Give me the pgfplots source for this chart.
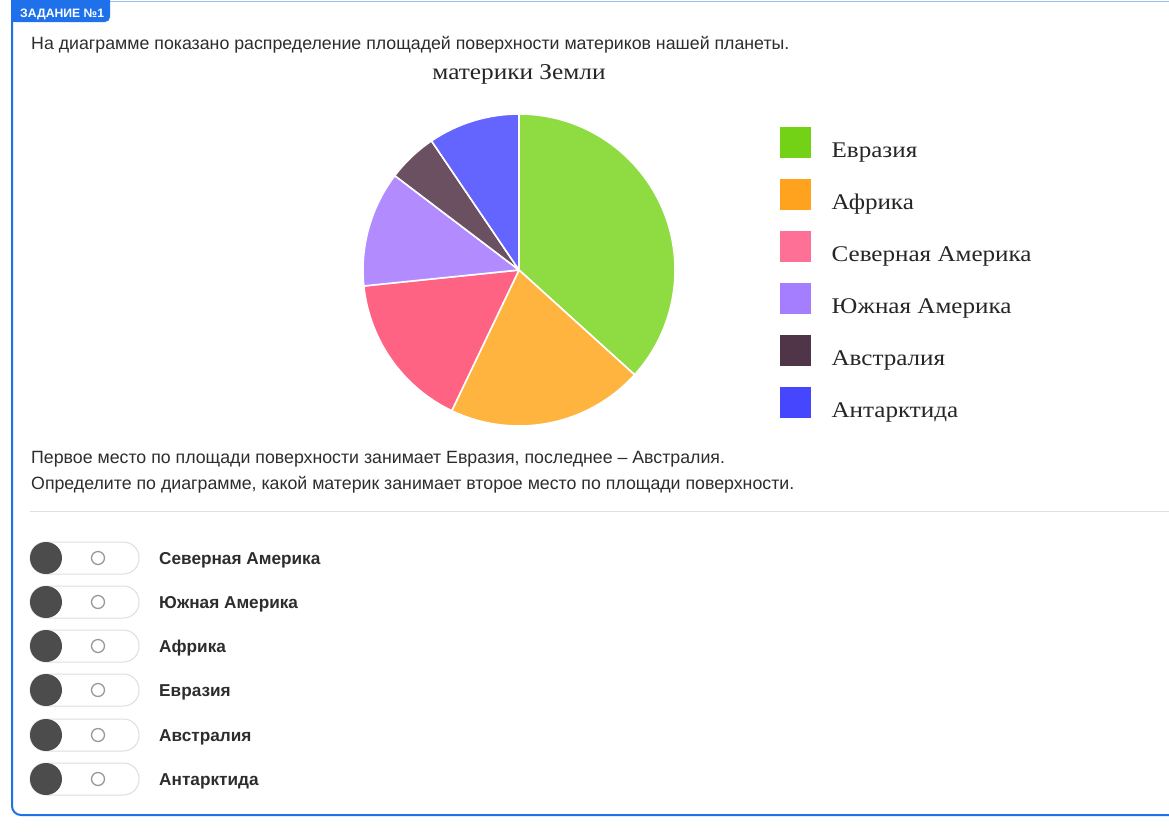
\documentclass[border=0pt]{standalone}
\usepackage{pgfplots}
\pgfplotsset{compat=1.18}
\usepackage{pgfplotstable}
\usepackage{fontspec}
\setmainfont{Liberation Sans}
\newfontfamily\serif[FakeStretch=1.12]{Liberation Serif}
\definecolor{pEur}{RGB}{142,220,66}
\definecolor{pAfr}{RGB}{255,180,64}
\definecolor{pNA}{RGB}{255,99,132}
\definecolor{pSA}{RGB}{178,140,255}
\definecolor{pAus}{RGB}{106,80,96}
\definecolor{pAnt}{RGB}{100,100,255}
\definecolor{lEur}{RGB}{115,210,22}
\definecolor{lAfr}{RGB}{255,163,30}
\definecolor{lNA}{RGB}{255,112,150}
\definecolor{lSA}{RGB}{165,125,255}
\definecolor{lAus}{RGB}{80,52,72}
\definecolor{lAnt}{RGB}{70,70,255}
\definecolor{uiblue}{RGB}{30,112,235}
\definecolor{uitext}{RGB}{45,45,45}
\pgfplotstableread{
name value pie
Eurasia 54.6 pEur
Africa 30.3 pAfr
NorthAmerica 24.2 pNA
SouthAmerica 17.8 pSA
Australia 7.7 pAus
Antarctica 14.1 pAnt
}\continents
% total of the values
\xdef\total{0}
\pgfplotstableforeachcolumnelement{value}\of\continents\as\val{%
  \pgfmathsetmacro\tmp{\total+\val}\xdef\total{\tmp}}
% start/end angles of each slice (clockwise from 12 o'clock)
\xdef\cum{0}
\xdef\slices{}
\pgfplotstableforeachcolumnelement{value}\of\continents\as\val{%
  \pgfplotstablegetelem{\pgfplotstablerow}{pie}\of\continents
  \edef\col{\pgfplotsretval}%
  \pgfmathsetmacro\aS{90-\cum/\total*360}%
  \pgfmathsetmacro\aE{90-(\cum+\val)/\total*360}%
  \pgfmathsetmacro\tmp{\cum+\val}\xdef\cum{\tmp}%
  \ifx\slices\empty
    \xdef\slices{\aS/\aE/\col}%
  \else
    \xdef\slices{\slices,\aS/\aE/\col}%
  \fi
}
\begin{document}
\begin{tikzpicture}[x=1pt,y=-1pt]
\path[use as bounding box] (0,0) rectangle (1169,833);
\fill[white] (0,0) rectangle (1169,833);
% frame
\draw[uiblue!45, line width=1pt] (12,1.5) -- (1169,1.5);
\draw[uiblue, line width=2pt, rounded corners=9pt] (12,0) -- (12,815) -- (1169,815);
\fill[uiblue, rounded corners=5pt] (11,-6) rectangle (110,22);
\fill[uiblue] (11,-6) rectangle (30,22);
\node[anchor=base west, inner sep=0pt, text=white, font=\bfseries\fontsize{12.2}{12.2}\selectfont] at (20,17) {ЗАДАНИЕ №1};
% texts
\begin{scope}[every node/.style={anchor=base west, inner sep=0pt, text=uitext, font=\fontsize{17.75}{17.75}\selectfont}]
\node at (31,49) {На диаграмме показано распределение площадей поверхности материков нашей планеты.};
\node at (31,463) {Первое место по площади поверхности занимает Евразия, последнее – Австралия.};
\node at (31,489) {Определите по диаграмме, какой материк занимает второе место по площади поверхности.};
\end{scope}
\draw[black!12, line width=1pt] (30,511) -- (1169,511);
% options
\foreach \yy/\lab in {558/Северная Америка, 602/Южная Америка, 646/Африка, 690/Евразия, 735/Австралия, 779/Антарктида}{
  \draw[black!13, line width=1pt, rounded corners=15.5pt] (30,\yy-16) rectangle (139,\yy+16);
  \fill[black!70] (46,\yy) circle[radius=16];
  \draw[black!40, line width=1.3pt] (98,\yy) circle[radius=6.5];
  \node[anchor=base west, inner sep=0pt, text=uitext, font=\bfseries\fontsize{17.2}{17.2}\selectfont] at (159,\yy+6) {\lab};
}
% pie chart
\begin{axis}[
  at={(519pt,-270pt)}, anchor=center,
  width=312pt, height=312pt, scale only axis,
  xmin=-1, xmax=1, ymin=-1, ymax=1,
  hide axis,
  title={материки Земли},
  title style={at={(0.5,1)}, anchor=base, yshift=29pt, inner sep=0pt, text=black!85, font=\serif\fontsize{22.6}{22.6}\selectfont},
  legend image code/.code={\fill[#1] (0pt,-5pt) rectangle (30pt,25pt);},
  legend cell align=left,
  legend style={draw=none, fill=none, at={(1.3365,0.958)}, anchor=north west,
    inner sep=0pt, row sep=16.8pt, column sep=21pt,
    font=\serif\fontsize{22.4}{22.4}\selectfont, text=black!85,
    nodes={inner sep=0pt, text depth=5pt}},
]
\addlegendimage{lEur}\addlegendentry{Евразия}
\addlegendimage{lAfr}\addlegendentry{Африка}
\addlegendimage{lNA}\addlegendentry{Северная Америка}
\addlegendimage{lSA}\addlegendentry{Южная Америка}
\addlegendimage{lAus}\addlegendentry{Австралия}
\addlegendimage{lAnt}\addlegendentry{Антарктида}
\pgfplotsextra{%
  \pgfkeys{/pgf/fpu=false}%
  \foreach \s/\e/\c in \slices {
    \filldraw[fill=\c, draw=white, line width=1.6pt, line join=round]
      (axis cs:0,0) -- ++(\s:156pt) arc[start angle=\s, end angle=\e, radius=156pt] -- cycle;
  }
}
\end{axis}
\end{tikzpicture}
\end{document}
